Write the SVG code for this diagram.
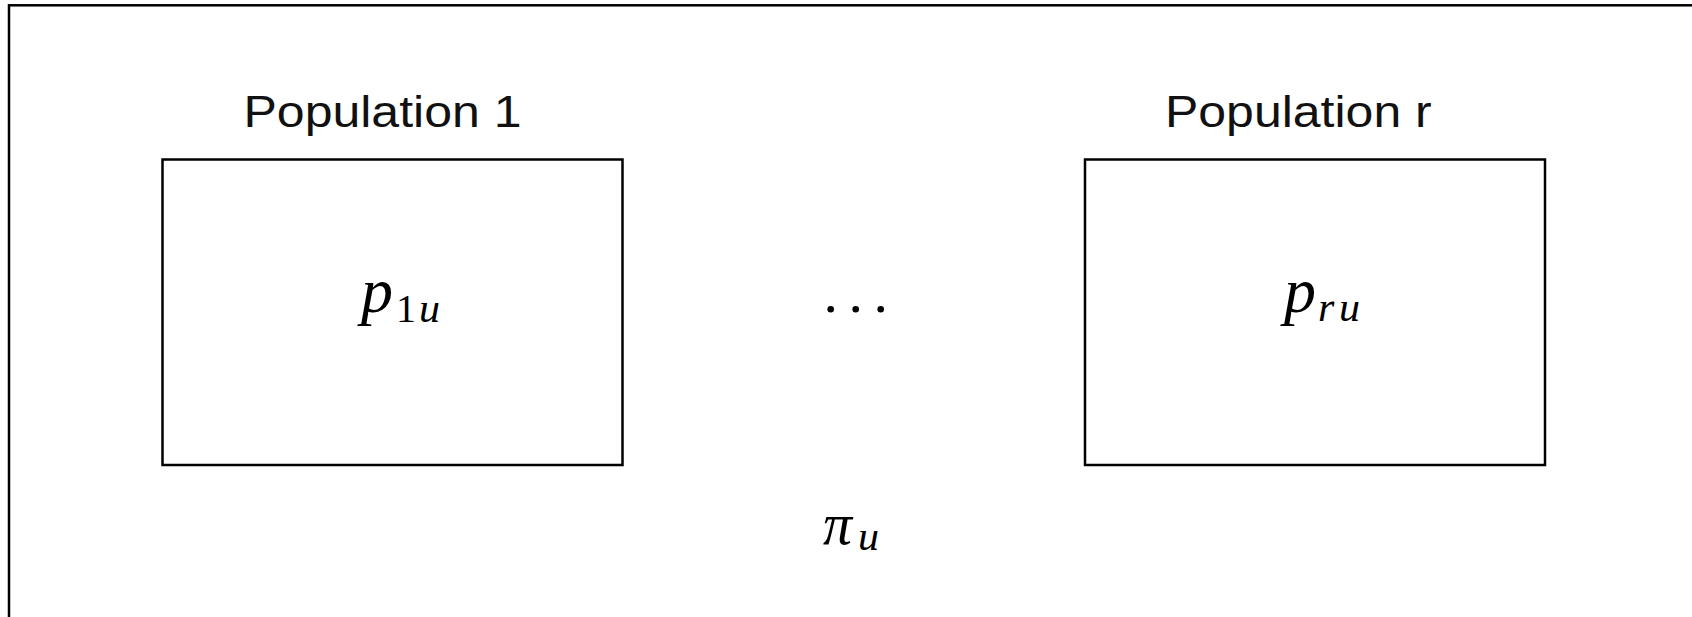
<svg xmlns="http://www.w3.org/2000/svg" width="1692" height="617" viewBox="0 0 1692 617">
<style>
.box{fill:none;stroke:#000;stroke-width:2.5}
.lbl{font-family:"Liberation Sans",Arial,sans-serif;font-size:44px;fill:#111}
.m{font-family:"Liberation Serif","Times New Roman",serif;font-style:italic;fill:#000}
.up{font-style:normal}
</style>
<rect width="1692" height="617" fill="#fff"/>
<g id="frame">
<rect class="box" x="9" y="5.3" width="1720" height="700"/>
<text class="m" x="823" y="543.5" font-size="60" textLength="29" lengthAdjust="spacingAndGlyphs">π</text>
<text class="m" x="858" y="550" font-size="42">u</text>
</g>
<g id="pop1">
<text class="lbl" x="243.5" y="126.5" textLength="278" lengthAdjust="spacingAndGlyphs">Population 1</text>
<rect class="box" x="162.5" y="159.5" width="460" height="305.5"/>
<text class="m" x="361" y="311.5" font-size="64">p</text>
<text class="m up" x="396" y="321.5" font-size="40">1</text>
<text class="m" x="419" y="321.5" font-size="42">u</text>
</g>
<g id="dots">
<circle cx="830.7" cy="309.3" r="3.3"/>
<circle cx="855.7" cy="309.3" r="3.3"/>
<circle cx="880.7" cy="309.3" r="3.3"/>
</g>
<g id="popr">
<text class="lbl" x="1165" y="126.5" textLength="266.7" lengthAdjust="spacingAndGlyphs">Population r</text>
<rect class="box" x="1085" y="159.5" width="460" height="305.5"/>
<text class="m" x="1284" y="311.5" font-size="64">p</text>
<text class="m" x="1318" y="320.5" font-size="42">r</text>
<text class="m" x="1339" y="320.5" font-size="42">u</text>
</g>
<g id="connectors"/>
</svg>
